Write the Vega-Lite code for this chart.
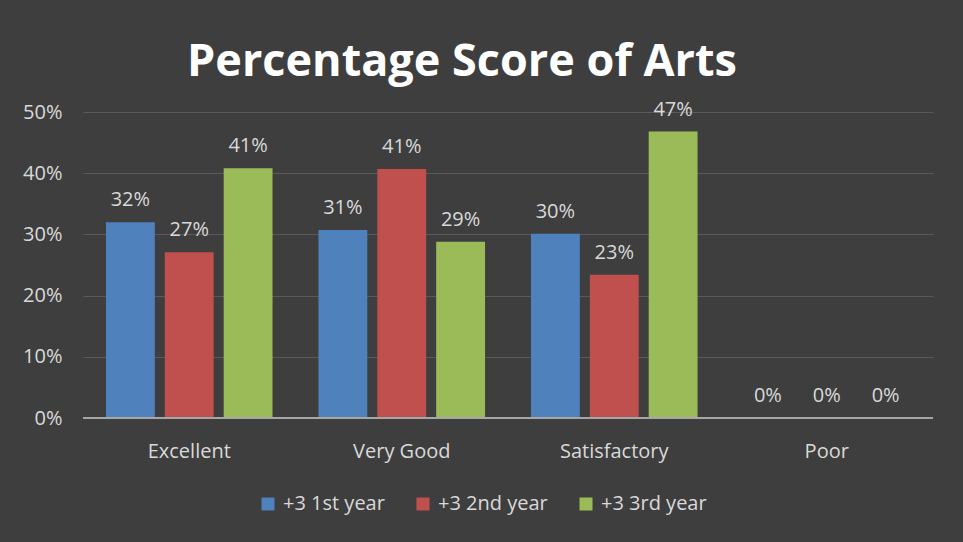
{
  "$schema": "https://vega.github.io/schema/vega-lite/v6.json",
  "width": 850,
  "height": 306,
  "autosize": {"type": "none"},
  "padding": {"left": 83, "top": 112, "right": 30, "bottom": 124},
  "background": "#3e3e3e",
  "title": {
    "text": "Percentage Score of Arts",
    "font": "Open Sans",
    "fontSize": 45,
    "fontWeight": "bold",
    "color": "#ffffff",
    "anchor": "middle",
    "dx": -46,
    "offset": 15
  },
  "config": {
    "view": {"stroke": null},
    "font": "Open Sans"
  },
  "data": {
    "values": [
      {"rating": "Excellent", "year": "+3 1st year", "score": 0.320},
      {"rating": "Excellent", "year": "+3 2nd year", "score": 0.271},
      {"rating": "Excellent", "year": "+3 3rd year", "score": 0.408},
      {"rating": "Very Good", "year": "+3 1st year", "score": 0.307},
      {"rating": "Very Good", "year": "+3 2nd year", "score": 0.407},
      {"rating": "Very Good", "year": "+3 3rd year", "score": 0.288},
      {"rating": "Satisfactory", "year": "+3 1st year", "score": 0.301},
      {"rating": "Satisfactory", "year": "+3 2nd year", "score": 0.234},
      {"rating": "Satisfactory", "year": "+3 3rd year", "score": 0.468},
      {"rating": "Poor", "year": "+3 1st year", "score": 0},
      {"rating": "Poor", "year": "+3 2nd year", "score": 0},
      {"rating": "Poor", "year": "+3 3rd year", "score": 0}
    ]
  },
  "encoding": {
    "x": {
      "field": "rating",
      "type": "nominal",
      "sort": ["Excellent", "Very Good", "Satisfactory", "Poor"],
      "scale": {"paddingInner": 0, "paddingOuter": 0},
      "axis": {
        "title": null,
        "labelAngle": 0,
        "labelFontSize": 20,
        "labelColor": "#d9d9d9",
        "labelPadding": 23,
        "ticks": false,
        "domain": false
      }
    },
    "xOffset": {
      "field": "year",
      "type": "nominal",
      "scale": {"paddingInner": 0.17, "paddingOuter": 0.39}
    },
    "y": {
      "field": "score",
      "type": "quantitative",
      "scale": {"domain": [0, 0.5]},
      "axis": {
        "title": null,
        "format": ".0%",
        "values": [0, 0.1, 0.2, 0.3, 0.4, 0.5],
        "labelOverlap": false,
        "labelFontSize": 20,
        "labelColor": "#d9d9d9",
        "labelPadding": 21,
        "ticks": false,
        "domain": false,
        "gridColor": "#5a5a5a",
        "gridWidth": 1
      }
    }
  },
  "layer": [
    {
      "mark": {"type": "bar"},
      "encoding": {
        "color": {
          "field": "year",
          "type": "nominal",
          "scale": {"range": ["#4f81bd", "#c0504d", "#9bbb59"]},
          "legend": {
            "title": null,
            "orient": "none",
            "direction": "horizontal",
            "legendX": 175,
            "legendY": 382,
            "symbolType": "square",
            "symbolSize": 169,
            "symbolStrokeWidth": 0,
            "symbolOpacity": 1,
            "labelFontSize": 20,
            "labelColor": "#d9d9d9",
            "labelOffset": 5,
            "columnPadding": 28
          }
        }
      }
    },
    {
      "mark": {"type": "rule", "color": "#a6a6a6", "strokeWidth": 2},
      "encoding": {
        "y": {"datum": 0},
        "x": null,
        "xOffset": null
      }
    },
    {
      "mark": {"type": "text", "baseline": "bottom", "dy": -12, "fontSize": 20, "color": "#d9d9d9"},
      "encoding": {
        "text": {"field": "score", "type": "quantitative", "format": ".0%"}
      }
    }
  ]
}
